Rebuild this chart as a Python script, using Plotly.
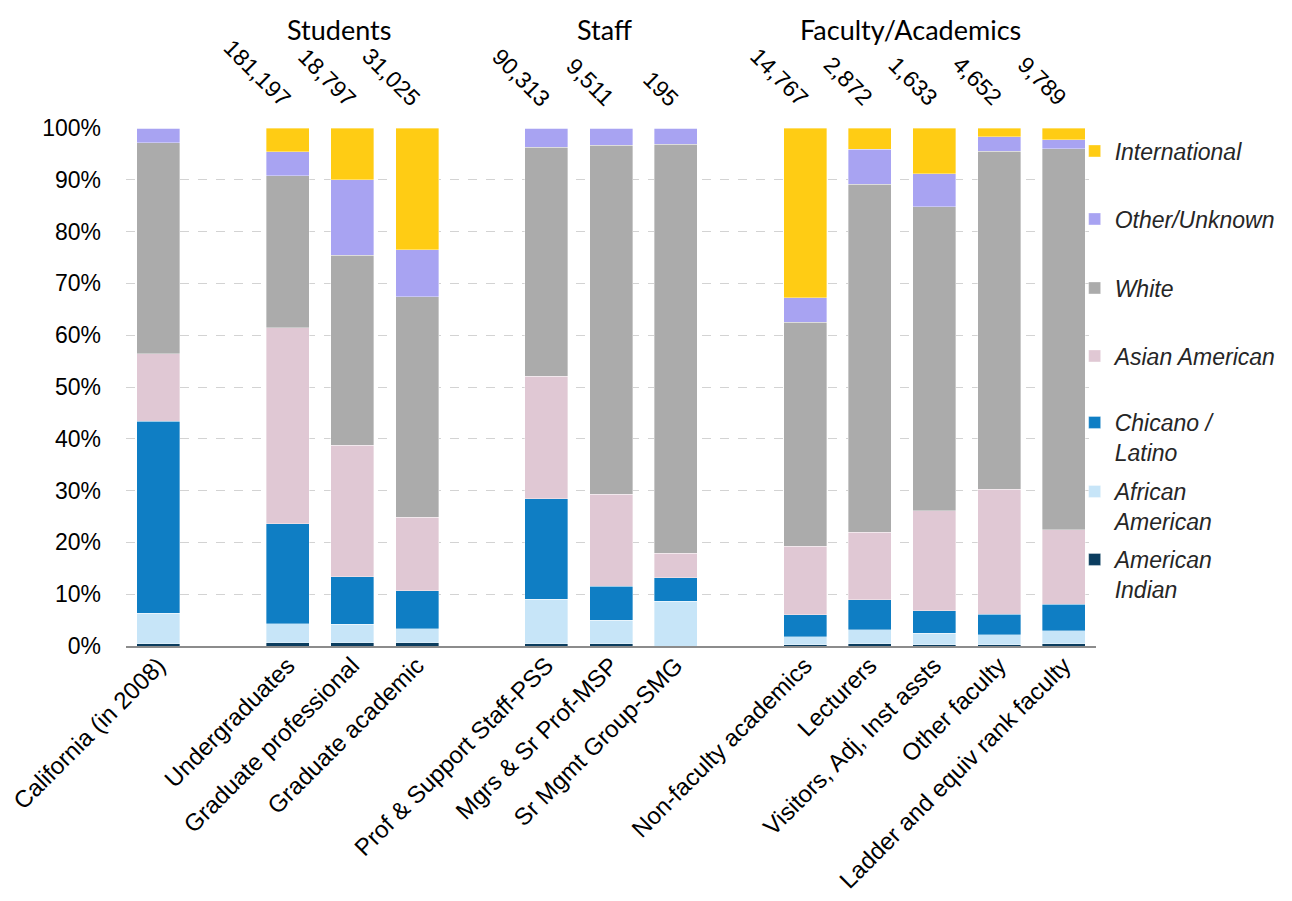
import plotly.graph_objects as go

# ---------------- data ----------------
categories = ["California (in 2008)", "Undergraduates", "Graduate professional", "Graduate academic",
              "Prof & Support Staff-PSS", "Mgrs & Sr Prof-MSP", "Sr Mgmt Group-SMG",
              "Non-faculty academics", "Lecturers", "Visitors, Adj, Inst assts", "Other faculty",
              "Ladder and equiv rank faculty"]
positions = [0, 2, 3, 4, 6, 7, 8, 10, 11, 12, 13, 14]
counts = ["", "181,197", "18,797", "31,025", "90,313", "9,511", "195",
          "14,767", "2,872", "1,633", "4,652", "9,789"]

american_indian = [0.4, 0.6, 0.65, 0.65, 0.45, 0.45, 0.0, 0.2, 0.45, 0.25, 0.2, 0.4]
african_american = [5.9, 3.7, 3.55, 2.65, 8.55, 4.55, 8.6, 1.55, 2.65, 2.2, 2.0, 2.5]
chicano_latino = [37.1, 19.3, 9.2, 7.4, 19.4, 6.5, 4.6, 4.25, 5.8, 4.35, 3.9, 5.2]
asian_american = [13.0, 37.8, 25.4, 14.2, 23.7, 17.8, 4.75, 13.3, 13.1, 19.3, 24.2, 14.3]
white = [40.8, 29.4, 36.6, 42.5, 44.2, 67.4, 78.95, 43.2, 67.1, 58.7, 65.2, 73.6]
other_unknown = [2.8, 4.6, 14.6, 9.1, 3.7, 3.3, 3.1, 4.7, 6.8, 6.4, 2.8, 1.7]
international = [0.0, 4.6, 10.0, 23.5, 0.0, 0.0, 0.0, 32.8, 4.1, 8.8, 1.7, 2.3]

groups = ["Students", "Staff", "Faculty/Academics"]
group_x = [2.79, 6.9, 11.63]

y_ticks = list(range(0, 101, 10))
y_ticktext = [f"{v}%" for v in y_ticks]

series = [
    ("American<br>Indian", american_indian, "#0B3D5F"),
    ("African<br>American", african_american, "#C7E5F8"),
    ("Chicano /<br>Latino", chicano_latino, "#0F7EC4"),
    ("Asian American", asian_american, "#E0C8D4"),
    ("White", white, "#ABABAB"),
    ("Other/Unknown", other_unknown, "#A8A3F2"),
    ("International", international, "#FFCC14"),
]
# legend text center (screen pixel y) for each series, bottom to top
legend_px = [574.5, 506.5, 437.5, 356, 288, 219, 151]

# ---------------- figure ----------------
W, H = 1276, 885
L, R, T, B = 118, 188, 120, 247
plot_h = H - T - B          # 518
SCREEN_BOTTOM = 646         # screen y of the 0% line


def paper_y(screen_px):
    return (SCREEN_BOTTOM - screen_px) / plot_h


fig = go.Figure()
for i, (name, vals, color) in enumerate(series):
    lg = "legend" if i == 0 else f"legend{i + 1}"
    fig.add_trace(go.Bar(
        x=positions, y=vals, name=name,
        marker=dict(color=color, line=dict(color="rgba(255,255,255,0.45)", width=0.8)),
        legend=lg,
    ))

legend_font = dict(family="Liberation Sans, Arial, sans-serif", size=23, color="#262626", style="italic")
for i in range(len(series)):
    key = "legend" if i == 0 else f"legend{i + 1}"
    fig.layout[key] = dict(
        x=0.978, xanchor="left",
        y=paper_y(legend_px[i]), yanchor="middle",
        font=legend_font, bgcolor="rgba(0,0,0,0)", borderwidth=0,
        valign="top", itemclick=False, itemdoubleclick=False,
    )

# counts above bars
for p, c in zip(positions, counts):
    if c:
        fig.add_annotation(x=p, y=paper_y(114), xref="x", yref="paper", text=c, textangle=45,
                           xanchor="right", yanchor="bottom", showarrow=False, xshift=11,
                           font=dict(family="Liberation Sans, Arial, sans-serif", size=23, color="black"))

# group headers
for g, gx in zip(groups, group_x):
    fig.add_annotation(x=gx, y=paper_y(29), xref="x", yref="paper", text=g,
                       showarrow=False, xanchor="center", yanchor="middle",
                       font=dict(family="Lato, Noto Sans, sans-serif", size=27, color="black"))

fig.update_layout(
    width=W, height=H,
    margin=dict(l=L, r=R, t=T, b=B, autoexpand=False),
    barmode="stack", bargap=0.335,
    plot_bgcolor="white", paper_bgcolor="white",
    font=dict(family="Liberation Sans, Arial, sans-serif", size=22, color="black"),
    showlegend=True,
)
fig.update_xaxes(
    range=[-0.5, 14.5], tickvals=positions, ticktext=categories, tickangle=-45,
    showline=True, linecolor="#8C8C8C", linewidth=2, showgrid=False, ticks="",
    tickfont=dict(size=24, color="black"), zeroline=False, ticklabelstandoff=-6,
    ticklabeloverflow="allow",
)
fig.update_yaxes(
    range=[0, 100], tickvals=y_ticks, ticktext=y_ticktext,
    showgrid=True, gridcolor="#D3D3D3", griddash="dash", gridwidth=1,
    zeroline=False, showline=False, ticks="", ticklabelstandoff=24,
    tickfont=dict(size=23, color="black"),
)

fig.write_html("out.html")
